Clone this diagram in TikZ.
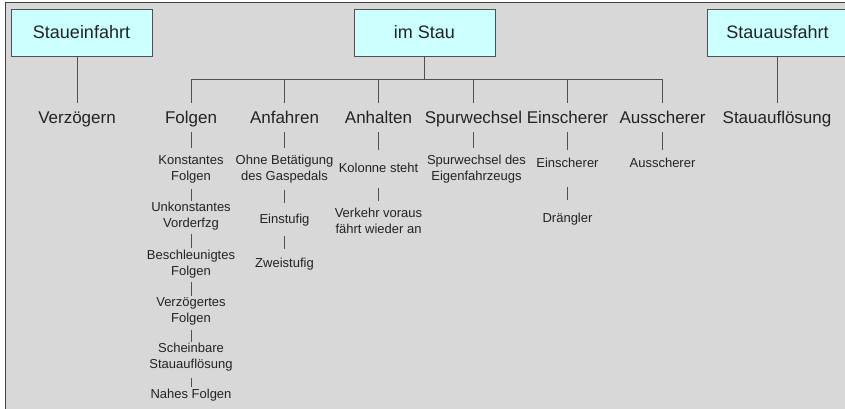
\documentclass[tikz,border=0pt]{standalone}
\usepackage{fontspec}
\setmainfont{Liberation Sans}
\usepackage{tikz}
\usetikzlibrary{positioning}
\definecolor{stauback}{RGB}{216,216,216}
\definecolor{staubox}{RGB}{204,255,255}
\definecolor{staulinie}{RGB}{80,80,80}
\definecolor{stautext}{RGB}{35,35,35}
\definecolor{rahmen}{RGB}{64,64,64}

\begin{document}
\begin{tikzpicture}[
        x=1pt, y=-1pt,
        phase/.style={rectangle, draw=staulinie, fill=staubox, line width=1pt, minimum width=141pt, minimum height=47pt, text=stautext, font=\fontsize{18}{21}\selectfont},
        manoever/.style={text=stautext, font=\fontsize{17}{20}\selectfont, text height=12pt, text depth=1pt, inner xsep=0pt, inner ysep=8pt},
        detail/.style={text=stautext, font=\fontsize{13}{16}\selectfont, align=center, inner sep=1.5pt},
        link/.style={draw=staulinie, line width=1pt}
    ]
    \useasboundingbox (0,0) rectangle (845,408);
    \fill[stauback] (5,2) rectangle (850,410);
    \draw[rahmen, line width=1.2pt] (5.6,410) |- (850,2.6);

    % Phasen
    \node[phase] (einfahrt) at (81.5,32.5) {Staueinfahrt};
    \node[phase] (stau) at (424.5,32.5) {im Stau};
    \node[phase] (ausfahrt) at (777.5,32.5) {Stauausfahrt};

    % Manöver
    \node[manoever] (verzoegern) at (77,117.5) {Verzögern};
    \node[manoever] (folgen) at (191,117.5) {Folgen};
    \node[manoever] (anfahren) at (284.5,117.5) {Anfahren};
    \node[manoever] (anhalten) at (378.5,117.5) {Anhalten};
    \node[manoever] (spurw) at (473.5,117.5) {Spurwechsel};
    \node[manoever] (einsch) at (567.5,117.5) {Einscherer};
    \node[manoever] (aussch) at (662.5,117.5) {Ausscherer};
    \node[manoever] (aufloesung) at (777,117.5) {Stauauflösung};

    % Situationen
    \node[detail, below=21.5pt of folgen] (konst) {Konstantes\\Folgen};
    \node[detail, below=16pt of konst] (unkonst) {Unkonstantes\\Vorderfzg};
    \node[detail, below=16pt of unkonst] (beschl) {Beschleunigtes\\Folgen};
    \node[detail, below=16pt of beschl] (verzfolg) {Verzögertes\\Folgen};
    \node[detail, below=15pt of verzfolg] (schein) {Scheinbare\\Stauauflösung};
    \node[detail, below=14pt of schein] (nahes) {Nahes Folgen};
    \node[detail, below=21.5pt of anfahren] (ohnegas) {Ohne Betätigung\\des Gaspedals};
    \node[detail, below=27pt of ohnegas] (einstufig) {Einstufig};
    \node[detail, below=29pt of einstufig] (zweistufig) {Zweistufig};
    \node[detail, below=29.5pt of anhalten] (kolonne) {Kolonne steht};
    \node[detail, below=31.5pt of kolonne] (verkehr) {Verkehr voraus\\fährt wieder an};
    \node[detail, below=21.5pt of spurw, xshift=3pt] (eigen) {Spurwechsel des\\Eigenfahrzeugs};
    \node[detail, below=24.5pt of einsch] (einschdet) {Einscherer};
    \node[detail, below=41.5pt of einschdet] (draengler) {Drängler};
    \node[detail, below=24.5pt of aussch] (ausschdet) {Ausscherer};

    % Verbindungen
    \coordinate (ast) at (424,79);
    \draw[link] (einfahrt.south -| verzoegern.north) -- (verzoegern.north);
    \draw[link] (ausfahrt.south -| aufloesung.north) -- (aufloesung.north);
    \draw[link] (stau.south -| ast) -- (ast);
    \draw[link] (ast -| folgen) -- (ast -| aussch);
    \foreach \n in {folgen, anfahren, anhalten, spurw, einsch, aussch}
        \draw[link] (ast -| \n) -- (\n.north);
    \foreach \a/\b/\s/\e in {folgen/konst/0pt/5.5pt, konst/unkonst/4pt/0pt, unkonst/beschl/2pt/0pt,
            beschl/verzfolg/2pt/0pt, verzfolg/schein/3pt/0pt, schein/nahes/5pt/0pt,
            anfahren/ohnegas/0pt/5.5pt, ohnegas/einstufig/5pt/9.5pt, einstufig/zweistufig/8pt/7.5pt,
            anhalten/kolonne/0pt/11.5pt, kolonne/verkehr/13pt/5.5pt, einsch/einschdet/0pt/6.5pt,
            einschdet/draengler/17pt/11.5pt, aussch/ausschdet/0pt/6.5pt}
        \draw[link, shorten <=\s, shorten >=\e] (\a.south) -- (\b.north);
    \draw[link, shorten >=5.5pt] (spurw.south) -- (spurw.south |- eigen.north);

    \end{tikzpicture}
\end{document}
